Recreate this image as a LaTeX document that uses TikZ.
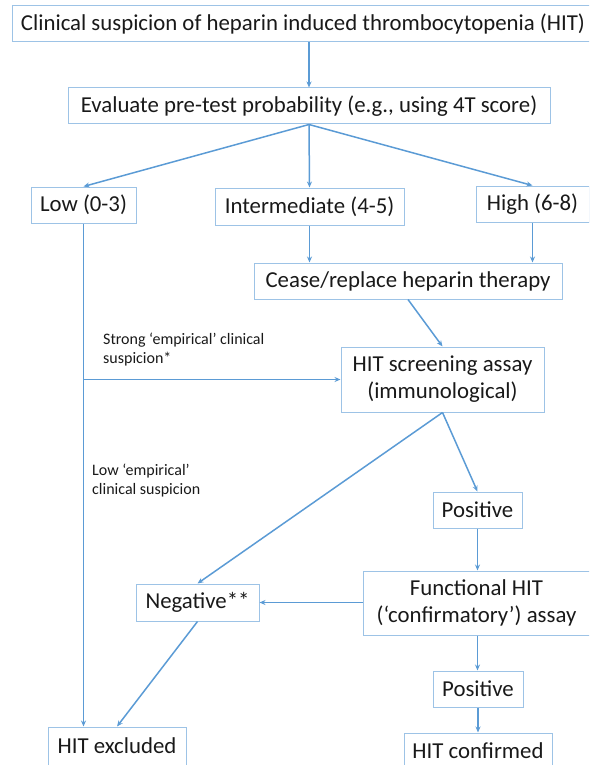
\documentclass[tikz,border=0pt]{standalone}
\usepackage{fontspec}
\setmainfont{Carlito}
\usetikzlibrary{arrows.meta}

\definecolor{boxblue}{RGB}{157,195,230}
\definecolor{lineblue}{RGB}{91,155,213}
\definecolor{inkgray}{RGB}{25,25,25}

\begin{document}
\begin{tikzpicture}[x=1pt,y=-1pt,
    box/.style={draw=boxblue,line width=1pt,rectangle,inner sep=0pt,align=center,
        text=inkgray,font=\fontsize{22.8}{27}\selectfont},
    link/.style={draw=lineblue,line width=1.5pt,-{Stealth[length=6pt,width=5pt]}},
    note/.style={anchor=north west,inner sep=0pt,align=left,text=inkgray,
        font=\fontsize{16}{19}\selectfont}]
    \useasboundingbox (0,0) rectangle (589,765);
    \clip (0,0) rectangle (589,765);

    % top of the chart
    \node[box,minimum width=582pt,minimum height=36pt] (suspicion) at (303,24)
        {Clinical suspicion of heparin induced thrombocytopenia (HIT)};
    \node[box,minimum width=482pt,minimum height=36pt] (pretest) at (309,106)
        {Evaluate pre-test probability (e.g., using 4T score)};

    % 4T score groups
    \node[box,minimum width=105pt,minimum height=36pt] (low) at (83.5,205) {Low (0-3)};
    \node[box,minimum width=189pt,minimum height=37pt] (intermediate) at (309.5,206.5) {Intermediate (4-5)};
    \node[box,minimum width=113pt,minimum height=36pt] (high) at (532.5,204) {High (6-8)};
    \node[box,minimum width=308pt,minimum height=36pt] (cease) at (408,281) {Cease/replace heparin therapy};

    % assays
    \node[box,minimum width=203pt,minimum height=65pt] (screening) at (442.5,379.5)
        {HIT screening assay\\(immunological)};
    \node[box,minimum width=89pt,minimum height=36pt] (positiveA) at (477.5,510) {Positive};
    \node[box,minimum width=227pt,minimum height=64pt] (functional) at (476.5,603)
        {Functional HIT\\(‘confirmatory’) assay};
    \node[box,minimum width=123pt,minimum height=37pt] (negative) at (197.5,602.5) {Negative**};
    \node[box,minimum width=90pt,minimum height=36pt] (positiveB) at (478,689) {Positive};

    % outcomes
    \node[box,minimum width=138pt,minimum height=38pt] (excluded) at (117,746) {HIT excluded};
    \node[box,minimum width=148pt,minimum height=36pt] (confirmed) at (478,751) {HIT confirmed};

    % side notes
    \node[note] (strongnote) at (103,333) {Strong ‘empirical’ clinical\\suspicion*};
    \node[note] (lownote) at (92,464) {Low ‘empirical’\\clinical suspicion};

    % connectors
    \draw[link] (pretest.north |- suspicion.south) -- (pretest.north);
    \draw[link] (pretest.south) -- (low.north);
    \draw[link] (pretest.south) -- (intermediate.north);
    \draw[link] (pretest.south) -- (high.north);
    \draw[link] (intermediate.south) -- (intermediate.south |- cease.north);
    \draw[link] (high.south) -- (high.south |- cease.north);
    \draw[link] (cease.south) -- (screening.north);
    \draw[link] (low.south) -- (low.south |- excluded.north);
    \coordinate (branch) at (low.south |- screening.west);
    \draw[link] (branch) -- (screening.west);
    \draw[link] (screening.south) -- (positiveA.north);
    \draw[link] (screening.south) -- (negative.north);
    \draw[link] (positiveA.south) -- (positiveA.south |- functional.north);
    \draw[link] (functional.west |- negative.east) -- (negative.east);
    \draw[link] (negative.south) -- (excluded.north);
    \draw[link] (positiveA.south |- functional.south) -- (positiveA.south |- positiveB.north);
    \draw[link] (positiveB.south) -- (confirmed.north);
\end{tikzpicture}
\end{document}
